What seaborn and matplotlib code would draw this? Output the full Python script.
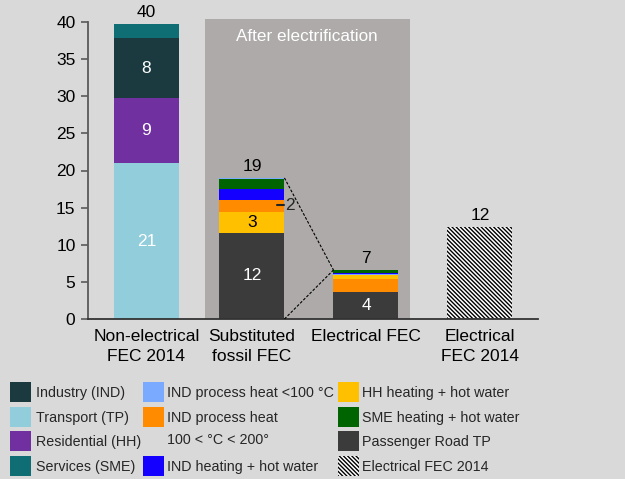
import matplotlib
matplotlib.use("Agg")
import matplotlib.pyplot as plt
import seaborn as sns
import pandas as pd
from matplotlib.patches import Rectangle

# ---------------- data ----------------
categories = ["Non-electrical\nFEC 2014", "Substituted\nfossil FEC",
              "Electrical FEC", "Electrical\nFEC 2014"]
positions = [0.0, 0.925, 1.925, 2.925]

transport   = [21.0, 0, 0, 0]
residential = [8.7, 0, 0, 0]
industry    = [8.2, 0, 0, 0]
services    = [1.8, 0, 0, 0]
road_tp     = [0, 11.6, 3.65, 0]
hh_heat     = [0, 2.8, 0.55, 0]
ind_ph_mid  = [0, 1.6, 1.7, 0]
ind_heat    = [0, 1.5, 0.25, 0]
sme_heat    = [0, 1.3, 0.35, 0]
ind_ph_low  = [0, 0.2, 0.1, 0]
elec_2014   = [0, 0, 0, 12.4]

total_labels = ["40", "19", "7", "12"]

series = {
    "Industry (IND)": (industry, "#1b3a40"),
    "Transport (TP)": (transport, "#92cddc"),
    "Residential (HH)": (residential, "#7030a0"),
    "Services (SME)": (services, "#0e6e74"),
    "IND process heat <100 °C": (ind_ph_low, "#7aaaff"),
    "IND process heat\n100 < °C < 200°": (ind_ph_mid, "#ff8c00"),
    "IND heating + hot water": (ind_heat, "#1400ff"),
    "HH heating + hot water": (hh_heat, "#ffc000"),
    "SME heating + hot water": (sme_heat, "#006400"),
    "Passenger Road TP": (road_tp, "#3b3b3b"),
    "Electrical FEC 2014": (elec_2014, "white"),
}

# stacking order (bottom to top) for each bar
stack_order = [
    ["Transport (TP)", "Residential (HH)", "Industry (IND)", "Services (SME)"],
    ["Passenger Road TP", "HH heating + hot water", "IND process heat\n100 < °C < 200°",
     "IND heating + hot water", "SME heating + hot water", "IND process heat <100 °C"],
    ["Passenger Road TP", "IND process heat\n100 < °C < 200°", "HH heating + hot water",
     "IND process heat <100 °C", "IND heating + hot water", "SME heating + hot water"],
    ["Electrical FEC 2014"],
]

# labels inside segments: (bar index, series, text, color)
segment_labels = [
    (0, "Transport (TP)", "21", "white"),
    (0, "Residential (HH)", "9", "white"),
    (0, "Industry (IND)", "8", "white"),
    (1, "Passenger Road TP", "12", "white"),
    (1, "HH heating + hot water", "3", "black"),
    (2, "Passenger Road TP", "4", "white"),
]

# ---------------- style ----------------
sns.set_theme(style="white")
plt.rcParams["font.family"] = ["Liberation Sans", "DejaVu Sans"]
plt.rcParams["hatch.linewidth"] = 1.0
plt.rcParams["hatch.color"] = "black"

BG = "#d9d9d9"
HATCH = "\\" * 8
fig = plt.figure(figsize=(6.25, 4.79), dpi=100, facecolor=BG)
ax = fig.add_axes([88 / 625, 1 - 319 / 479, 450 / 625, 297 / 479])
ax.set_facecolor(BG)

BW = 0.57
FS = 12.5

# shaded "after electrification" region
ax.add_patch(Rectangle((0.513, 0), 1.8, 40.4, facecolor="#aeaaaa",
                       edgecolor="none", zorder=0, clip_on=False))
ax.text(1.41, 38.1, "After electrification", color="white", fontsize=12.3,
        ha="center", va="center", zorder=1)

# ---------------- bars ----------------
seg_bounds = {}
bar_tops = []
for i, xp in enumerate(positions):
    bottom = 0.0
    for name in stack_order[i]:
        vals, col = series[name]
        v = vals[i]
        df = pd.DataFrame({"x": [xp], "val": [v]})
        kw = dict(facecolor=col, edgecolor="none", linewidth=0)
        if name == "Electrical FEC 2014":
            kw = dict(facecolor="white", edgecolor="black", linewidth=0, hatch=HATCH)
        sns.barplot(data=df, x="x", y="val", native_scale=True, width=BW,
                    bottom=bottom, errorbar=None, ax=ax, zorder=2, **kw)
        seg_bounds[(i, name)] = (bottom, bottom + v)
        bottom += v
    bar_tops.append(bottom)
    ax.text(xp, bottom + 1.6, total_labels[i], ha="center", va="center",
            fontsize=FS, color="black", clip_on=False)

for i, name, txt, col in segment_labels:
    lo, hi = seg_bounds[(i, name)]
    ax.text(positions[i], (lo + hi) / 2, txt, ha="center", va="center", fontsize=FS,
            color=col, zorder=5)

# "2" label with leader
x2 = positions[1] + BW / 2
x3 = positions[2] - BW / 2
ax.plot([x2 - 0.065, x2], [15.3, 15.3], color="#222222", lw=1.5, zorder=5)
ax.text(x2 + 0.01, 15.3, "2", ha="left", va="center", fontsize=FS, zorder=5)

# connecting dashed lines between bar 2 and bar 3
ax.plot([x2, x3], [bar_tops[1], bar_tops[2]], color="black", lw=0.8, ls=(0, (2.5, 1.5)), zorder=4)
ax.plot([x2, x3], [0, bar_tops[2]], color="black", lw=0.8, ls=(0, (2.5, 1.5)), zorder=4)

# ---------------- axes ----------------
ax.set_xlim(-0.513, 3.434)
ax.set_ylim(0, 40)
ax.set_yticks(range(0, 41, 5))
ax.set_xticks(positions)
ax.set_xticklabels(categories, linespacing=1.45)
ax.set_xlabel("")
ax.set_ylabel("")
for s in ["top", "right"]:
    ax.spines[s].set_visible(False)
ax.spines["left"].set_color("#5a5a5a")
ax.spines["left"].set_linewidth(1.3)
ax.spines["bottom"].set_color("#333333")
ax.spines["bottom"].set_linewidth(1.3)
ax.tick_params(axis="y", direction="out", length=5, width=1.2, color="#5a5a5a",
               labelsize=FS, labelcolor="black", pad=4, left=True)
ax.tick_params(axis="x", length=0, labelsize=FS, labelcolor="black", pad=7)

# ---------------- legend (manual, 3 columns) ----------------
W, H = 625, 479
LFS = 10.3
legend_cols = [
    (10, 36, [("Industry (IND)", 392), ("Transport (TP)", 417),
              ("Residential (HH)", 441), ("Services (SME)", 466)]),
    (143, 167, [("IND process heat <100 °C", 392),
                ("IND process heat\n100 < °C < 200°", 417),
                ("IND heating + hot water", 466)]),
    (338, 362, [("HH heating + hot water", 392), ("SME heating + hot water", 417),
                ("Passenger Road TP", 441), ("Electrical FEC 2014", 466)]),
]
for px, tx, entries in legend_cols:
    for name, yc in entries:
        col = series[name][1]
        if name == "Electrical FEC 2014":
            r = Rectangle((px / W, 1 - (yc + 10) / H), 21 / W, 20 / H,
                          transform=fig.transFigure, facecolor="white",
                          edgecolor="black", linewidth=0, hatch=HATCH)
        else:
            r = Rectangle((px / W, 1 - (yc + 10) / H), 21 / W, 20 / H,
                          transform=fig.transFigure, facecolor=col,
                          edgecolor="none")
        fig.add_artist(r)
        if "\n" in name:
            fig.text(tx / W, 1 - (yc - 6) / H, name, ha="left", va="top",
                     fontsize=LFS, linespacing=1.75)
        else:
            fig.text(tx / W, 1 - (yc + 1) / H, name, ha="left", va="center",
                     fontsize=LFS)

fig.savefig("out.png", dpi=100, facecolor=BG)
